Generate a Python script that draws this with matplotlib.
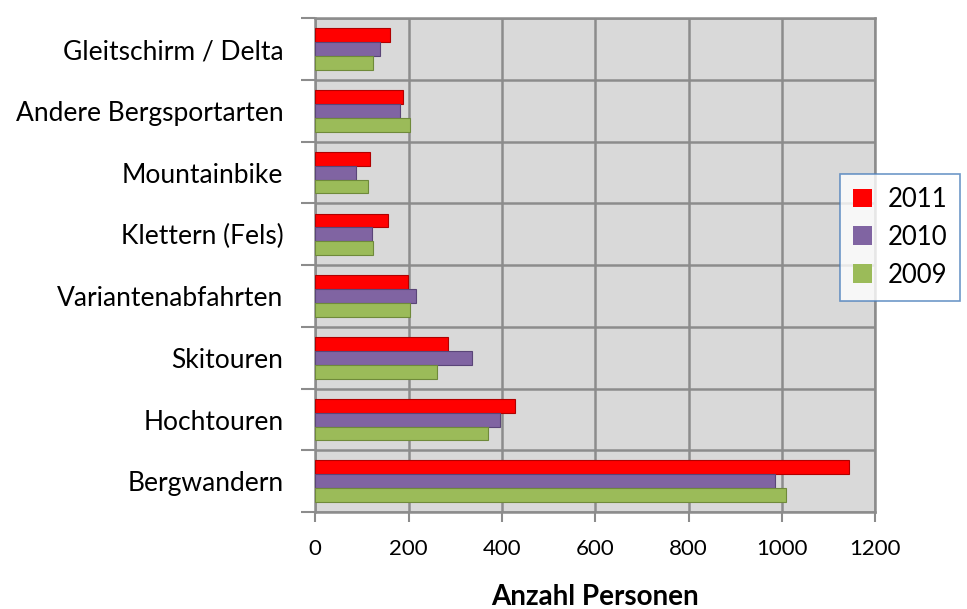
import matplotlib.pyplot as plt
import numpy as np
from matplotlib.patches import Patch

plt.rcParams["font.family"] = ["Lato", "DejaVu Sans"]

categories = [
    "Bergwandern",
    "Hochtouren",
    "Skitouren",
    "Variantenabfahrten",
    "Klettern (Fels)",
    "Mountainbike",
    "Andere Bergsportarten",
    "Gleitschirm / Delta",
]
vals_2011 = [1145, 428, 285, 198, 155, 118, 188, 160]
vals_2010 = [985, 396, 335, 216, 121, 88, 181, 138]
vals_2009 = [1010, 370, 262, 203, 123, 113, 203, 124]
years = ["2011", "2010", "2009"]

colors = {"2011": "#ff0000", "2010": "#8064a2", "2009": "#9bbb59"}
edges = {"2011": "#b00000", "2010": "#5a4578", "2009": "#6f8a3a"}

fig = plt.figure(figsize=(9.67, 6.09), dpi=100)
ax = fig.add_axes([0.326, 0.159, 0.579, 0.811])
ax.set_facecolor("#d9d9d9")

y = np.arange(len(categories))
h = 0.225
series = {"2011": vals_2011, "2010": vals_2010, "2009": vals_2009}
offsets = {"2011": h, "2010": 0.0, "2009": -h}
for yr in years:
    ax.barh(y + offsets[yr], series[yr], height=h, color=colors[yr],
            edgecolor=edges[yr], linewidth=0.8, zorder=3)

ax.set_xlim(0, 1200)
ax.set_ylim(-0.5, len(categories) - 0.5)
ax.set_xticks(range(0, 1201, 200))
ax.set_yticks(y)
ax.set_yticklabels(categories, fontsize=19)
ax.set_yticks(np.arange(-0.5, len(categories), 1), minor=True)

ax.tick_params(axis="y", which="major", length=0, pad=23)
ax.tick_params(axis="y", which="minor", length=10, width=1.5, color="#8c8c8c")
ax.tick_params(axis="x", length=7, width=1.5, color="#8c8c8c", labelsize=16, pad=12)

ax.grid(True, axis="x", which="major", color="#8c8c8c", linewidth=1.8, zorder=0)
ax.grid(True, axis="y", which="minor", color="#8c8c8c", linewidth=1.8, zorder=0)
ax.set_axisbelow(True)
for s in ax.spines.values():
    s.set_color("#8c8c8c")
    s.set_linewidth(1.8)

ax.set_xlabel("Anzahl Personen", fontsize=20, fontweight="bold", labelpad=18)

handles = [Patch(facecolor=colors[yr], edgecolor="none") for yr in years]
leg = fig.legend(handles, years, loc="upper left", bbox_to_anchor=(0.869, 0.714),
                 fontsize=18.5, frameon=True, fancybox=False, handlelength=0.75,
                 handleheight=0.75, handletextpad=0.6, labelspacing=0.5,
                 borderpad=0.5, borderaxespad=0)
leg.get_frame().set_edgecolor("#4a7ebb")
leg.get_frame().set_linewidth(1.2)

fig.savefig("out.png", dpi=100)
